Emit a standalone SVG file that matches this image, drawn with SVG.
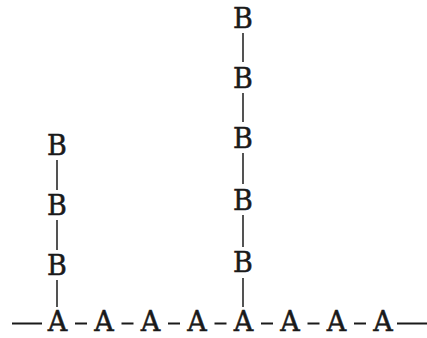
<svg xmlns="http://www.w3.org/2000/svg" width="427" height="338" viewBox="0 0 427 338">
<style>
.t{font-family:"DejaVu Serif","Liberation Serif",serif;font-size:27px;fill:#1a1a1a;stroke:#1a1a1a;stroke-width:0.5;text-anchor:middle}
.c{stroke:#2a2a2a;stroke-width:1.6;fill:none}
.h{stroke:#1a1a1a;stroke-width:2;fill:none}
</style>
<rect width="427" height="338" fill="#fff"/>
<g id="connectors">
<path class="h" d="M12 323.5H42M397 323.5H427"/>
<path class="h" d="M75 323.5H87M121.5 323.5H133.5M168 323.5H180M214.5 323.5H226.5M261 323.5H273M307.5 323.5H319.5M354 323.5H366"/>
<path class="c" d="M57 160V190M57 220V250M57 280V307"/>
<path class="c" d="M243 33V62M243 93V122M243 153V184M243 215V247M243 278V307"/>
</g>
<g id="a1"><text class="t" x="57.5" y="331">A</text></g>
<g id="a2"><text class="t" x="104" y="331">A</text></g>
<g id="a3"><text class="t" x="150.5" y="331">A</text></g>
<g id="a4"><text class="t" x="197" y="331">A</text></g>
<g id="a5"><text class="t" x="243.5" y="331">A</text></g>
<g id="a6"><text class="t" x="290" y="331">A</text></g>
<g id="a7"><text class="t" x="336.5" y="331">A</text></g>
<g id="a8"><text class="t" x="383" y="331">A</text></g>
<g id="lb1"><text class="t" x="57" y="155">B</text></g>
<g id="lb2"><text class="t" x="57" y="215">B</text></g>
<g id="lb3"><text class="t" x="57" y="275">B</text></g>
<g id="mb1"><text class="t" x="243" y="28">B</text></g>
<g id="mb2"><text class="t" x="243" y="88">B</text></g>
<g id="mb3"><text class="t" x="243" y="148">B</text></g>
<g id="mb4"><text class="t" x="243" y="210">B</text></g>
<g id="mb5"><text class="t" x="243" y="272">B</text></g>
</svg>
